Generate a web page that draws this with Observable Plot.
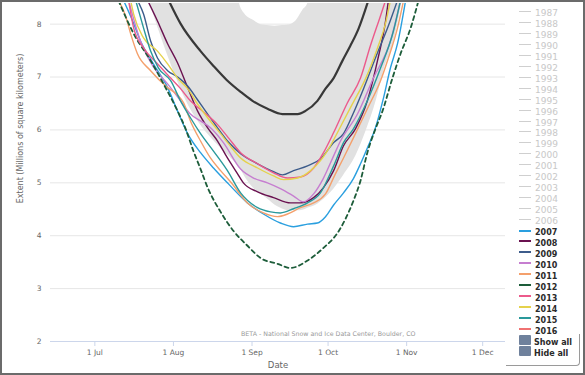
<!DOCTYPE html>
<html><head><meta charset="utf-8">
<script src="https://cdn.jsdelivr.net/npm/d3@7"></script>
<script src="https://cdn.jsdelivr.net/npm/@observablehq/plot@0.6"></script>
<style>
body{margin:0;background:#fff;font-family:"DejaVu Sans",sans-serif;}
#wrap{position:relative;width:585px;height:375px;overflow:hidden;background:#fff;}
#chart{position:absolute;left:0;top:0;}
#frame{position:absolute;left:0;top:0;width:585px;height:375px;box-sizing:border-box;border:2px solid #6b6b6b;pointer-events:none;}
.item{position:absolute;left:519px;height:11px;line-height:11px;white-space:nowrap;}
.sym{display:inline-block;width:12px;height:0;vertical-align:middle;margin-right:4px;}
.off{color:#c8c8c8;font-size:9px;}
.on{color:#2a2a2a;font-size:8px;font-weight:bold;}
.btn{display:inline-block;width:12px;height:10px;background:#6f819c;vertical-align:middle;margin-right:3px;border-radius:1px;}
#lbox{position:absolute;left:506px;top:334px;width:73px;height:31px;border-right:1px solid #9a9a9a;border-bottom:1px solid #9a9a9a;border-bottom-right-radius:4px;}
</style></head>
<body>
<div id="wrap"><div id="chart"></div><div id="legend"></div><div id="lbox"></div><div id="frame"></div></div>
<script>
// x values are day of year, y values are extent (millions of km²)
const hiddenYears = [1987,1988,1989,1990,1991,1992,1993,1994,1995,1996,1997,1998,1999,2000,2001,2002,2003,2004,2005,2006];
const shownYears = [2007,2008,2009,2010,2011,2012,2013,2014,2015,2016];
const xTickDates = ["2001-07-01","2001-08-01","2001-09-01","2001-10-01","2001-11-01","2001-12-01"];
const yTicks = [2,3,4,5,6,7,8];

const median = [[211.1,8.45],[215.8,8.01],[223.7,7.49],[228.8,7.21],[233.9,6.95],[239.5,6.72],[244.2,6.55],[250.1,6.40],[256.0,6.30],[262.0,6.30],[265.1,6.36],[269.8,6.55],[273.0,6.78],[276.2,6.98],[279.7,7.31],[282.8,7.59],[286.0,7.91],[289.9,8.45]];

const bandDoy  = [200,204,208,213,218,223,229,236,239,241,245,247,251,253,255,259,262,263,264,266,269,270,275,280,285,289,293,296,300,303,306];
const bandLow  = [9.2,8.37,7.78,7.12,6.55,6.14,5.79,5.45,5.30,5.13,4.88,4.81,4.66,4.58,4.53,4.47,4.47,4.47,4.48,4.52,4.57,4.60,4.81,5.13,5.51,5.98,6.55,7.12,7.68,8.37,9.2];
const bandHigh = [9.5,9.5,9.5,9.5,9.5,9.5,9.5,9.5,8.40,8.20,8.06,8.00,7.97,7.96,7.97,7.99,8.10,8.18,8.26,8.39,9.5,9.5,9.5,9.5,9.5,9.5,9.5,9.5,9.5,9.5,9.5];

const s2007 = [[193.3,8.45],[196.9,8.06],[200.0,7.68],[205.1,7.25],[210.7,6.80],[214.6,6.36],[218.6,5.93],[223.7,5.57],[228.8,5.28],[234.7,4.98],[242.2,4.62],[248.5,4.41],[255.2,4.24],[260.4,4.17],[265.9,4.22],[269.8,4.24],[273.0,4.36],[276.2,4.58],[280.1,4.81],[284.0,5.08],[286.8,5.36],[289.5,5.66],[292.7,6.04],[295.9,6.61],[298.6,7.17],[301.4,7.63],[304.6,8.45]];
const s2008 = [[202.8,8.45],[206.7,8.06],[210.7,7.63],[214.6,7.27],[218.6,6.80],[222.5,6.36],[226.5,6.04],[230.4,5.79],[234.3,5.47],[238.3,5.17],[240.6,5.00],[246.2,4.83],[252.5,4.72],[259.2,4.62],[263.1,4.62],[268.3,4.72],[272.2,4.91],[276.2,5.23],[280.1,5.70],[284.8,6.02],[289.5,6.55],[293.5,7.31],[296.7,8.06],[297.8,8.45]];
const s2009 = [[198.8,8.45],[201.2,8.19],[204.0,7.68],[206.7,7.36],[210.7,7.12],[214.6,7.00],[218.6,6.83],[222.5,6.57],[226.5,6.30],[230.4,6.04],[234.7,5.77],[239.5,5.55],[246.2,5.36],[252.5,5.21],[256.0,5.15],[260.4,5.23],[265.9,5.32],[271.0,5.45],[276.2,5.76],[280.1,5.93],[284.0,6.32],[288.0,6.78],[293.5,7.46],[297.5,7.93],[301.4,8.45]];
const s2010 = [[195.3,8.45],[200.0,7.68],[205.1,7.19],[210.7,6.87],[215.8,6.55],[219.7,6.30],[223.7,6.17],[227.6,6.04],[232.7,5.76],[239.5,5.26],[244.6,5.09],[250.1,5.00],[255.2,4.89],[260.4,4.75],[264.3,4.64],[268.3,4.79],[272.2,5.09],[276.2,5.51],[278.9,5.79],[285.6,6.30],[291.9,6.98],[298.6,7.68],[302.6,8.45]];
const s2011 = [[191.3,8.45],[194.1,8.16],[196.1,7.82],[198.8,7.44],[204.0,7.12],[210.7,6.80],[214.6,6.66],[217.0,6.51],[219.7,6.17],[223.7,5.79],[227.6,5.47],[231.6,5.23],[235.5,5.02],[242.2,4.62],[248.5,4.43],[254.0,4.36],[258.0,4.41],[263.1,4.53],[268.3,4.62],[273.0,4.79],[276.9,5.17],[280.1,5.47],[284.0,5.85],[289.5,6.40],[294.7,6.93],[297.8,7.36],[301.4,7.93],[303.8,8.45]];
const s2012 = [[191.3,8.45],[197.3,7.82],[204.0,7.31],[209.1,6.87],[214.6,6.36],[217.8,6.02],[220.9,5.60],[223.7,5.26],[226.5,4.91],[231.6,4.45],[236.7,4.09],[242.2,3.81],[247.3,3.58],[254.0,3.47],[259.2,3.39],[265.9,3.53],[272.2,3.77],[277.7,4.05],[280.9,4.32],[284.0,4.66],[286.8,5.04],[289.5,5.57],[292.7,6.02],[295.5,6.36],[299.4,6.98],[302.6,7.44],[306.6,7.93],[309.7,8.45]];
const s2013 = [[195.3,8.45],[197.3,7.93],[201.2,7.55],[206.7,7.25],[211.9,6.98],[215.8,6.78],[219.7,6.55],[224.9,6.34],[230.4,6.10],[234.7,5.85],[239.5,5.57],[246.2,5.36],[252.5,5.19],[258.0,5.09],[263.1,5.11],[268.3,5.28],[272.2,5.57],[276.2,5.95],[281.6,6.51],[286.8,6.98],[290.7,7.59],[294.7,8.16],[296.7,8.45]];
const s2014 = [[196.1,8.45],[197.3,8.19],[201.2,7.74],[206.7,7.49],[210.7,7.25],[214.6,6.98],[218.6,6.78],[222.5,6.49],[226.5,6.23],[231.6,5.93],[234.7,5.74],[239.5,5.47],[246.2,5.28],[252.5,5.13],[256.4,5.06],[262.0,5.09],[267.1,5.23],[271.0,5.42],[274.9,5.70],[278.9,6.06],[283.6,6.49],[288.8,6.97],[293.5,7.55],[296.7,8.02],[298.6,8.45]];
const s2015 = [[198.1,8.45],[201.2,7.93],[204.0,7.49],[207.1,7.17],[211.9,6.93],[215.8,6.55],[219.7,6.23],[223.7,5.93],[228.8,5.60],[234.3,5.23],[239.5,4.81],[246.2,4.53],[251.3,4.45],[255.2,4.43],[260.4,4.51],[265.9,4.62],[271.0,4.81],[276.2,5.32],[280.1,5.76],[284.0,6.02],[289.5,6.55],[294.7,7.17],[299.8,7.87],[302.6,8.45]];
const s2016 = [];

const seriesByYear = {2007:s2007,2008:s2008,2009:s2009,2010:s2010,2011:s2011,2012:s2012,2013:s2013,2014:s2014,2015:s2015,2016:s2016};
const yearColors = {2007:"#2a9fdf",2008:"#6a1250",2009:"#3d5c8b",2010:"#c67ed0",2011:"#f4a06c",2012:"#1d5d3a",2013:"#ec5a8b",2014:"#e5d24c",2015:"#2a999b",2016:"#f07272"};

const toDate = doy => new Date(Date.UTC(2001,0,1) + (doy-1)*864e5);
const band = bandDoy.map((d,i) => ({date: toDate(d), lo: bandLow[i], hi: bandHigh[i]}));
const med = median.map(([d,v]) => ({date: toDate(d), extent: v}));

const marks = [
  Plot.gridY(yTicks.filter(t => t > 2), {stroke:"#e6e6e6", strokeOpacity:1}),
  Plot.areaY(band, {x:"date", y1:"lo", y2:"hi", fill:"#e1e1e1", curve:"monotone-x", clip:true}),
  Plot.ruleY([2], {stroke:"#ccd6eb"}),
  Plot.line(med, {x:"date", y:"extent", stroke:"#383838", strokeWidth:2.2, curve:"monotone-x", clip:true})
];
for (const yr of shownYears) {
  const pts = seriesByYear[yr].map(([d,v]) => ({date: toDate(d), extent: v}));
  if (!pts.length) continue;
  marks.push(Plot.line(pts, {x:"date", y:"extent", stroke: yearColors[yr], strokeWidth: yr===2012 ? 1.8 : 1.4,
    strokeDasharray: yr===2012 ? "4,3.5" : null, curve:"monotone-x", clip:true}));
}
marks.push(
  Plot.axisX(xTickDates.map(s => new Date(s + "T00:00:00Z")), {tickFormat: d3.utcFormat("%-d %b"), tickSize:5, tickPadding:3, stroke:"#ccd6eb", color:"#666", fontSize:7.5, label:null}),
  Plot.axisY(yTicks, {tickSize:0, tickPadding:9, tickFormat: d3.format("d"), color:"#666", fontSize:7.5, label:null}),
  Plot.text(["Date"], {frameAnchor:"bottom", dy:26, fill:"#666", fontSize:8.5}),
  Plot.text(["Extent (Millions of square kilometers)"], {frameAnchor:"left", textAnchor:"middle", dx:-30, dy:-44, rotate:-90, fill:"#666", fontSize:8}),
  Plot.text(["BETA - National Snow and Ice Data Center, Boulder, CO"], {frameAnchor:"bottom-right", dx:-90, dy:-6, textAnchor:"end", fill:"#999", fontSize:6.3})
);

const chart = Plot.plot({
  width: 515, height: 375,
  marginLeft: 50, marginRight: 10, marginTop: 3, marginBottom: 34,
  style: {fontFamily: "DejaVu Sans, sans-serif", background: "transparent", overflow: "visible"},
  x: {type:"utc", domain:[toDate(164.5), toDate(344)]},
  y: {domain:[2, 8.39]},
  marks
});
document.getElementById("chart").appendChild(chart);

// legend
const legend = document.getElementById("legend");
const allYears = hiddenYears.concat(shownYears);
allYears.forEach((yr, i) => {
  const cy = 10.5 + i*10.95;
  const div = document.createElement("div");
  div.className = "item";
  div.style.top = (cy - 5.5) + "px";
  const shown = shownYears.includes(yr);
  const sym = document.createElement("span");
  sym.className = "sym";
  if (shown) sym.style.borderTop = (yr===2012 ? "2px dashed " : "2px solid ") + yearColors[yr];
  else sym.style.borderTop = "1px solid #cfcfcf";
  const t = document.createElement("span");
  t.className = shown ? "on" : "off";
  t.textContent = yr;
  div.appendChild(sym); div.appendChild(t);
  legend.appendChild(div);
});
["Show all","Hide all"].forEach((lab, j) => {
  const cy = 10.5 + (allYears.length + j)*10.95 + 0.3;
  const div = document.createElement("div");
  div.className = "item";
  div.style.top = (cy - 5.5) + "px";
  const b = document.createElement("span"); b.className = "btn";
  const t = document.createElement("span"); t.className = "on"; t.textContent = lab;
  div.appendChild(b); div.appendChild(t);
  legend.appendChild(div);
});
</script>
</body></html>
